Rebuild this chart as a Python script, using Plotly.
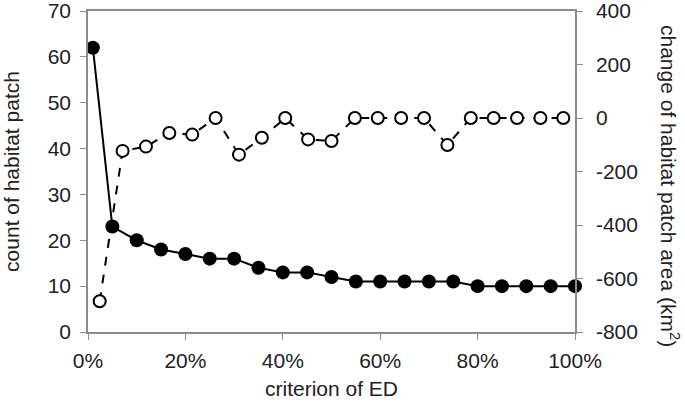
import plotly.graph_objects as go

# Data
ed_count_x = [0.01, 0.05, 0.10, 0.15, 0.20, 0.25, 0.30, 0.35, 0.40, 0.45, 0.50,
              0.55, 0.60, 0.65, 0.70, 0.75, 0.80, 0.85, 0.90, 0.95, 1.00]
patch_count = [62, 23, 20, 18, 17, 16, 16, 14, 13, 13, 12,
               11, 11, 11, 11, 11, 10, 10, 10, 10, 10]

ed_area_x = [0.024, 0.071, 0.119, 0.167, 0.214, 0.262, 0.310, 0.357, 0.405, 0.452, 0.500,
             0.548, 0.595, 0.643, 0.690, 0.738, 0.786, 0.833, 0.881, 0.929, 0.976]
area_change = [-685, -123, -107, -56, -62, 0, -137, -74, 0, -80, -86,
               0, 0, 0, 0, -101, 0, 0, 0, 0, 0]

left_ticks = [0, 10, 20, 30, 40, 50, 60, 70]
right_ticks = [-800, -600, -400, -200, 0, 200, 400]
right_tick_labels = ["-800", "-600", "-400", "-200", "0", "200", "400"]
x_ticks = [0, 0.2, 0.4, 0.6, 0.8, 1.0]
x_tick_labels = ["0%", "20%", "40%", "60%", "80%", "100%"]

font_family = "Liberation Sans, Arial, sans-serif"
tick_color = "#222222"
axis_color = "#8c8c8c"
fs = 21

fig = go.Figure()

fig.add_trace(go.Scatter(
    x=ed_area_x, y=area_change, yaxis="y2", mode="lines+markers",
    line=dict(color="black", width=2, dash="dash"),
    marker=dict(symbol="circle", size=12, color="white",
                line=dict(color="black", width=2)),
    showlegend=False, cliponaxis=False, hoverinfo="skip",
))

fig.add_trace(go.Scatter(
    x=ed_count_x, y=patch_count, mode="lines+markers",
    line=dict(color="black", width=2),
    marker=dict(symbol="circle", size=14, color="black"),
    showlegend=False, cliponaxis=False, hoverinfo="skip",
))

fig.update_layout(
    width=685, height=405,
    margin=dict(l=88, r=110, t=11, b=73, autoexpand=False),
    paper_bgcolor="white", plot_bgcolor="white",
    font=dict(family=font_family, size=fs, color=tick_color),
    xaxis=dict(
        range=[0, 1], tickvals=x_ticks, ticktext=x_tick_labels,
        showline=True, linecolor=axis_color, linewidth=1.5, mirror=True,
        ticks="outside", ticklen=6, tickcolor=axis_color,
        showgrid=False, zeroline=False, automargin=False,
        ticklabeloverflow="allow", ticklabelstandoff=3,
        title=dict(text="criterion of ED", font=dict(size=fs), standoff=10),
        tickfont=dict(size=fs),
    ),
    yaxis=dict(
        range=[0, 70], tickvals=left_ticks,
        showline=True, linecolor=axis_color, linewidth=1.5,
        ticks="outside", ticklen=6, tickcolor=axis_color,
        showgrid=False, zeroline=False, automargin=False,
        ticklabelstandoff=5, ticklabeloverflow="allow",
        title=dict(text="count of habitat patch", font=dict(size=fs), standoff=29),
        tickfont=dict(size=fs),
    ),
    yaxis2=dict(
        range=[-800, 400], tickvals=right_ticks, ticktext=right_tick_labels,
        overlaying="y", side="right",
        showline=True, linecolor=axis_color, linewidth=1.5,
        ticks="outside", ticklen=6, tickcolor=axis_color,
        showgrid=False, zeroline=False, automargin=False,
        ticklabelstandoff=9, ticklabeloverflow="allow",
        tickfont=dict(size=fs),
    ),
    annotations=[dict(
        text="change of habitat patch area (km<sup>2</sup>)",
        xref="paper", yref="paper", x=(670 - 88) / (575 - 88),
        y=(332 - 186) / (332 - 11), xanchor="center", yanchor="middle",
        textangle=90, showarrow=False, font=dict(size=fs, color=tick_color),
    )],
)

fig.write_html("out.html", config={"displayModeBar": False},
               post_script="document.body.style.margin='0';")
